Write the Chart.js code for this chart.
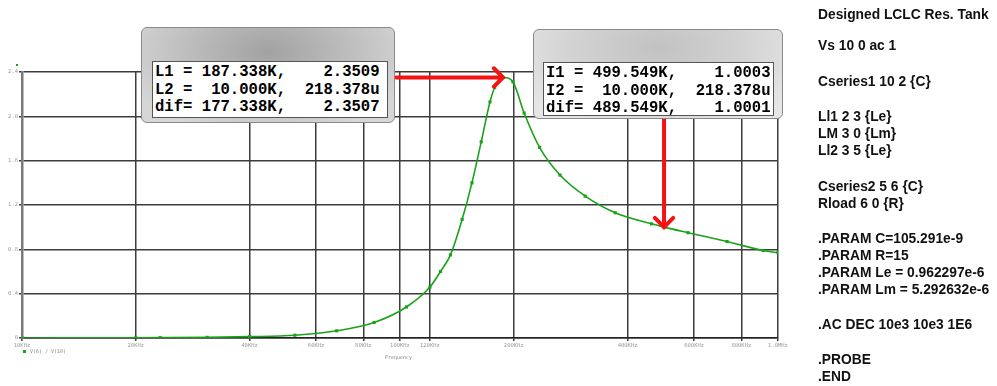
<!DOCTYPE html>
<html>
<head>
<meta charset="utf-8">
<script src="https://cdn.jsdelivr.net/npm/chart.js@4"></script>
<style>
  body { margin: 0; background: #fff; }
  #wrap { position: relative; width: 997px; height: 386px; overflow: hidden; }
  .panel { position: absolute; border-radius: 6px; border: 1px solid #8a8a8a; }
  #p1 { left: 141px; top: 27px; width: 252px; height: 94px;
        background: radial-gradient(ellipse at 50% 25%, #a2a2a2 0%, #bdbdbd 45%, #d6d6d6 85%); }
  #p2 { left: 533px; top: 29px; width: 248px; height: 88px;
        background: radial-gradient(ellipse at 50% 20%, #c2c2c2 0%, #d3d3d3 50%, #e6e6e6 90%); }
  .readout { position: absolute; background: #fff; border: 1px solid #555;
             font: bold 15.6px "Liberation Mono", "DejaVu Sans Mono", monospace;
             line-height: 17.5px; white-space: pre; color: #000; padding: 2px 0 0 2px; box-sizing: border-box; }
  #r1 { left: 152px; top: 61px; width: 236px; height: 57px; }
  #r2 { left: 543px; top: 62px; width: 231px; height: 54px; }
  #netlist { position: absolute; left: 818px; top: 0; font: bold 13.8px "Liberation Sans", Arial, sans-serif; color: #111; }
  #netlist div { position: absolute; left: 0; white-space: pre; }
</style>
</head>
<body>
<div id="wrap">
  <canvas id="chart" width="997" height="386"></canvas>
  <div class="panel" id="p1"></div>
  <div class="readout" id="r1"></div>
  <div class="panel" id="p2"></div>
  <div class="readout" id="r2"></div>
  <div id="netlist"></div>
</div>
<script>
// frequency (Hz) and gain V(6)/V(10)
var freqs = [10000, 20000, 23200, 30900, 40000, 52700, 68000, 85400, 104000, 120000,
             128000, 136000, 146000, 155000, 164000, 173000, 178000, 187338, 199000, 213000,
             234000, 265000, 309000, 371000, 463000, 499549, 578000, 733000, 913000, 1000000];
var gain = [0.0002, 0.002, 0.003, 0.006, 0.012, 0.025, 0.065, 0.14, 0.28, 0.46,
            0.60, 0.75, 1.07, 1.40, 1.77, 2.13, 2.26, 2.3509, 2.31, 2.03,
            1.72, 1.47, 1.28, 1.13, 1.03, 1.0003, 0.95, 0.87, 0.79, 0.77];

var xTicks = [10000, 20000, 40000, 60000, 80000, 100000, 120000, 200000, 400000, 600000, 800000, 1000000];
var xTickLabels = ["10KHz", "20KHz", "40KHz", "60KHz", "80KHz", "100KHz", "120KHz",
                   "200KHz", "400KHz", "600KHz", "800KHz", "1.0MHz"];
var yTicks = [0, 0.4, 0.8, 1.2, 1.6, 2.0, 2.4];
var yTickLabels = ["0", "0.4", "0.8", "1.2", "1.6", "2.0", "2.4"];

var traceName = "V(6) / V(10)";
var xTitle = "Frequency";

// probe cursors
var cursorA = { name: "L", f1: 187338, v1: 2.3509, f2: 10000, v2: "218.378u", df: "177.338K", dv: "2.3507" };
var cursorB = { name: "I", f1: 499549, v1: 1.0003, f2: 10000, v2: "218.378u", df: "489.549K", dv: "1.0001" };

var netlist = [
  ["Designed LCLC Res. Tank", 16],
  ["Vs 10 0 ac 1", 47],
  ["Cseries1 10 2 {C}", 83],
  ["Ll1 2 3 {Le}", 118],
  ["LM 3 0 {Lm}", 135],
  ["Ll2 3 5 {Le}", 152],
  ["Cseries2 5 6 {C}", 188],
  ["Rload 6 0 {R}", 205],
  [".PARAM C=105.291e-9", 240],
  [".PARAM R=15", 257],
  [".PARAM Le = 0.962297e-6", 274],
  [".PARAM Lm = 5.292632e-6", 291],
  [".AC DEC 10e3 10e3 1E6", 326],
  [".PROBE", 361],
  [".END", 378]
];

function readoutText(c) {
  return c.name + "1 = " + (c.f1 / 1000).toFixed(3) + "K,    " + c.v1.toFixed(4) + "\n" +
         c.name + "2 =  " + (c.f2 / 1000).toFixed(3) + "K,  " + c.v2 + "\n" +
         "dif= " + c.df + ",    " + c.dv;
}
document.getElementById("r1").textContent = readoutText(cursorA);
document.getElementById("r2").textContent = readoutText(cursorB);

var nl = document.getElementById("netlist");
netlist.forEach(function (row) {
  var d = document.createElement("div");
  d.textContent = row[0];
  d.style.top = (row[1] - 9) + "px";
  nl.appendChild(d);
});

var points = freqs.map(function (f, i) { return { x: f, y: gain[i] }; });

function arrow(ctx, x1, y1, x2, y2) {
  var a = Math.atan2(y2 - y1, x2 - x1), h = 13;
  ctx.beginPath();
  ctx.moveTo(x1, y1);
  ctx.lineTo(x2, y2);
  ctx.moveTo(x2 - h * Math.cos(a - Math.PI / 4), y2 - h * Math.sin(a - Math.PI / 4));
  ctx.lineTo(x2, y2);
  ctx.lineTo(x2 - h * Math.cos(a + Math.PI / 4), y2 - h * Math.sin(a + Math.PI / 4));
  ctx.stroke();
}

var extras = {
  id: "extras",
  afterDraw: function (chart) {
    var ctx = chart.ctx, xs = chart.scales.x, ys = chart.scales.y, area = chart.chartArea;
    ctx.save();
    // legend marker + trace name
    ctx.fillStyle = "#1aa31a";
    ctx.fillRect(area.left + 1, area.bottom + 12, 3, 3);
    ctx.fillRect(area.left - 6, area.top - 8, 2, 2);
    ctx.fillStyle = "#888";
    ctx.font = "5px 'DejaVu Sans Mono'";
    ctx.textBaseline = "middle";
    ctx.fillText(traceName, area.left + 8, area.bottom + 14);
    ctx.fillText(xTitle, 385, area.bottom + 20);
    // cursor arrows
    ctx.strokeStyle = "#f51212";
    ctx.lineWidth = 4;
    ctx.lineCap = "round";
    var ax = xs.getPixelForValue(cursorA.f1), ay = ys.getPixelForValue(cursorA.v1);
    arrow(ctx, 396, ay, ax, ay);
    var bx = xs.getPixelForValue(cursorB.f1), by = ys.getPixelForValue(cursorB.v1);
    arrow(ctx, bx, 117, bx, by);
    ctx.restore();
  }
};

new Chart(document.getElementById("chart"), {
  type: "line",
  data: {
    datasets: [{
      label: traceName,
      data: points,
      borderColor: "#1aa31a",
      backgroundColor: "#1aa31a",
      borderWidth: 1.6,
      pointStyle: "rect",
      pointRadius: 1.1,
      cubicInterpolationMode: "monotone"
    }]
  },
  options: {
    responsive: false,
    animation: false,
    layout: { padding: { top: 72, right: 219, left: 0, bottom: 0 } },
    plugins: { legend: { display: false }, tooltip: { enabled: false } },
    scales: {
      x: {
        type: "logarithmic",
        min: 10000,
        max: 1000000,
        afterBuildTicks: function (s) { s.ticks = xTicks.map(function (v) { return { value: v }; }); },
        afterFit: function (s) { s.height = 48; },
        ticks: {
          autoSkip: false, maxRotation: 0, padding: 1,
          color: "#999", font: { size: 5.5, family: "'DejaVu Sans Mono'" },
          callback: function (v, i) { return xTickLabels[i]; }
        },
        grid: { color: "#3c3c3c", lineWidth: 1.5, tickLength: 3 },
        border: { color: "#222", width: 1.5 }
      },
      y: {
        min: 0,
        max: 2.4,
        afterBuildTicks: function (s) { s.ticks = yTicks.map(function (v) { return { value: v }; }); },
        afterFit: function (s) { s.width = 22; },
        ticks: {
          padding: 1,
          color: "#999", font: { size: 5.5, family: "'DejaVu Sans Mono'" },
          callback: function (v, i) { return yTickLabels[i]; }
        },
        grid: { color: "#3c3c3c", lineWidth: 1.5, tickLength: 3 },
        border: { color: "#7a7a7a", width: 2.5 }
      }
    }
  },
  plugins: [extras]
});
</script>
</body>
</html>
